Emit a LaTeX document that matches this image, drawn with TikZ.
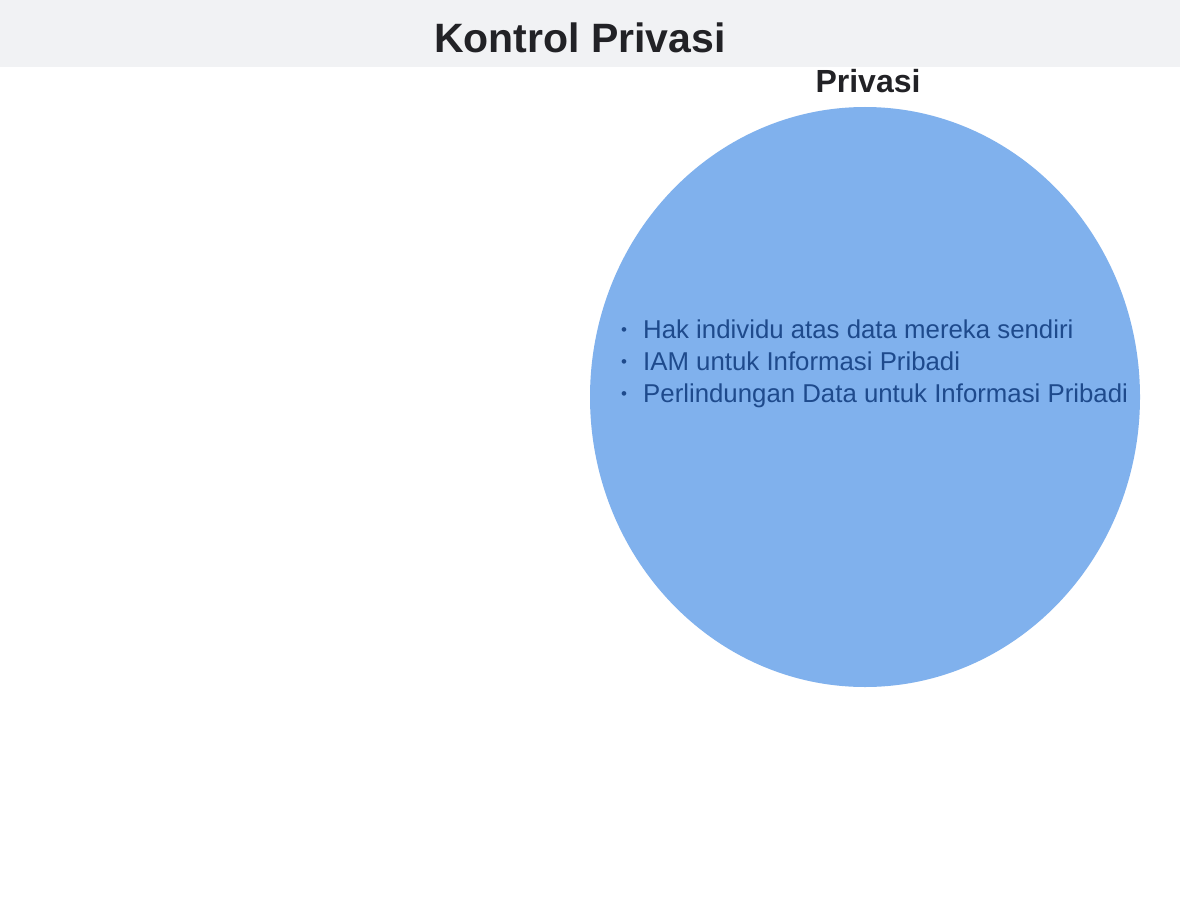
\documentclass[tikz,border=0pt]{standalone}
\usepackage{fontspec}
\setmainfont{Liberation Sans}
\usetikzlibrary{positioning, shapes.geometric}
\definecolor{bandgray}{HTML}{F1F2F4}
\definecolor{titleink}{HTML}{222226}
\definecolor{blobblue}{HTML}{80B1ED}
\definecolor{itemink}{HTML}{1E4A8C}
\tikzset{%
  band/.style={fill=bandgray, draw=none},
  title/.style={font=\fontsize{41}{46}\selectfont\bfseries, text=titleink, inner sep=0pt},
  blob/.style={ellipse, fill=blobblue, draw=none, minimum width=550pt, minimum height=580pt, inner sep=0pt},
  blob label/.style={font=\fontsize{32}{36}\selectfont\bfseries, text=titleink, inner sep=0pt},
  item/.style={font=\fontsize{25.8}{28}\selectfont, text=itemink, anchor=base west, inner sep=0pt},
  dot/.style={font=\fontsize{17}{20}\selectfont, text=itemink, inner sep=0pt}
}

\begin{document}
\begin{tikzpicture}[x=1pt, y=-1pt]
  \useasboundingbox (0,0) rectangle (1180,912);
  \fill[white] (0,0) rectangle (1180,912);
  \fill[band] (0,0) rectangle (1180,67);

  \node[title] (head) at (580,38) {Kontrol Privasi};

  \node[blob] (privasi) at (865,397) {};
  \node[blob label] (privasilbl) at (868,81) {Privasi};

  % items inside the circle
  \node[item] (i1) at (643,338) {Hak individu atas data mereka sendiri};
  \node[item] (i2) at (643,370) {IAM untuk Informasi Pribadi};
  \node[item] (i3) at (643,402) {Perlindungan Data untuk Informasi Pribadi};

  \node[dot] (d1) at (624,332) {•};
  \node[dot] (d2) at (624,364) {•};
  \node[dot] (d3) at (624,396) {•};
\end{tikzpicture}
\end{document}
